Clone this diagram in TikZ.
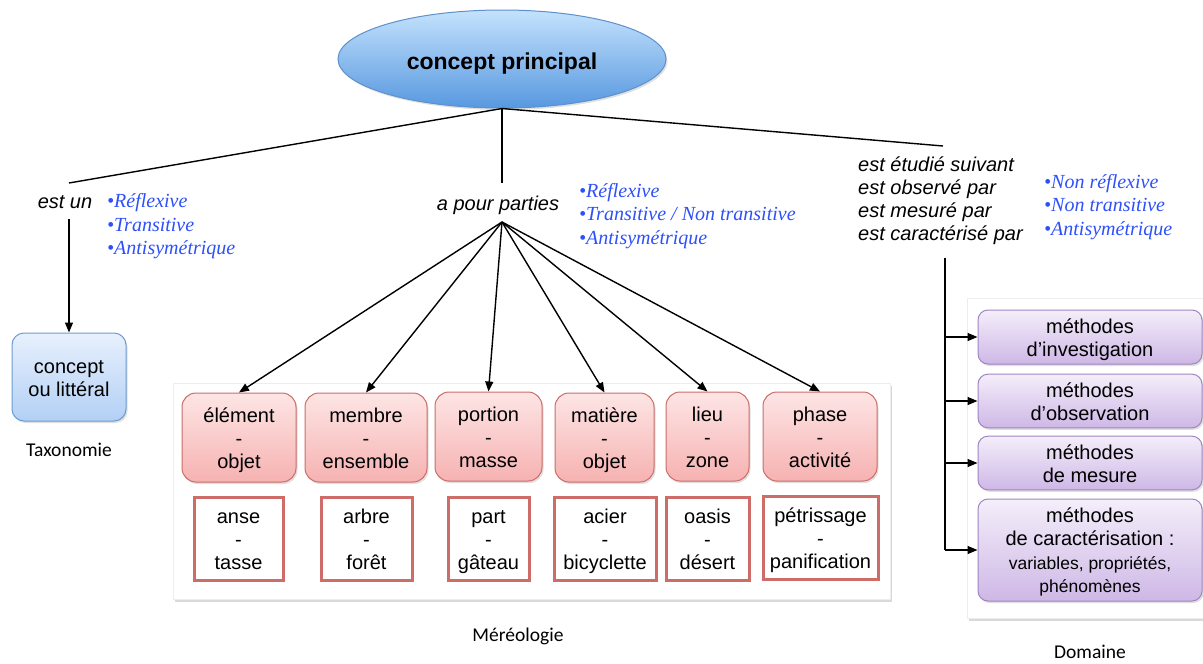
\documentclass[tikz,border=0pt]{standalone}
\usepackage{fontspec}
\setmainfont{Liberation Sans}
\newfontfamily\timesfont{Liberation Serif}
\newfontfamily\calfont{Carlito}
\usepackage{tikz}
\usetikzlibrary{shapes.geometric,shadows,arrows.meta}

\definecolor{relblue}{RGB}{45,80,250}
\definecolor{ovaltop}{RGB}{196,226,252}
\definecolor{ovalbot}{RGB}{88,152,224}
\definecolor{ovalline}{RGB}{92,145,205}
\definecolor{bluetop}{RGB}{232,240,253}
\definecolor{bluebot}{RGB}{178,208,245}
\definecolor{blueline}{RGB}{108,156,212}
\definecolor{redtop}{RGB}{253,229,229}
\definecolor{redbot}{RGB}{246,178,177}
\definecolor{redline}{RGB}{206,108,104}
\definecolor{purtop}{RGB}{244,238,250}
\definecolor{purbot}{RGB}{206,184,230}
\definecolor{purline}{RGB}{160,132,196}

% struts so that every box sets its lines at the same heights
\newcommand\topstrut{\rule{0pt}{19.5pt}}
\newcommand\botstrut{\rule[-4.5pt]{0pt}{4.5pt}}
\newcommand\pair[2]{\topstrut#1\\-\\#2\botstrut}

\begin{document}
\begin{tikzpicture}[x=1pt,y=-1pt,
  font=\fontsize{20}{23}\selectfont,
  >={Triangle[length=10pt,width=8pt]},
  link/.style={line width=1.4pt},
  relation/.style={font=\fontsize{20}{23}\selectfont\itshape},
  props/.style={font=\fontsize{20}{23.5}\selectfont\timesfont\itshape,text=relblue,
    align=left,anchor=west,inner sep=0pt},
  caption/.style={font=\fontsize{19.5}{23}\selectfont\calfont,inner sep=0pt},
  panel/.style={fill=white,draw=black!7,
    drop shadow={shadow xshift=2pt,shadow yshift=-3pt,opacity=0.3}},
  softshadow/.style={drop shadow={shadow xshift=1.5pt,shadow yshift=-2pt,opacity=0.25}},
  redbox/.style={rounded corners=14pt,top color=redtop,bottom color=redbot,
    draw=redline,line width=1pt,align=center,minimum height=89pt,softshadow},
  examplebox/.style={draw=redline,line width=3pt,fill=white,align=center,
    minimum height=83pt,inner sep=2pt},
  methodbox/.style={rounded corners=10pt,top color=purtop,bottom color=purbot,
    draw=purline,line width=1pt,align=center,minimum width=224pt,softshadow}]
  \useasboundingbox (0,0) rectangle (1203,664);

  % background panels
  \fill[panel] (173,383) rectangle (890,599);
  \fill[panel] (967,298) rectangle (1215,618);

  % main concept
  \node[ellipse,minimum width=328pt,minimum height=98pt,inner sep=0pt,
    text height=25pt,text depth=5pt,
    top color=ovaltop,bottom color=ovalbot,draw=ovalline,line width=1pt,softshadow,
    font=\fontsize{23}{26}\selectfont\bfseries] (main) at (502,59) {concept principal};

  % relation labels
  \node[relation] (isa) at (65,202) {est un};
  \node[relation] (parts) at (498,205) {a pour parties};
  \node[relation,align=left,anchor=west,inner sep=0pt] (studied) at (858,201)
    {est étudié suivant\\est observé par\\est mesuré par\\est caractérisé par};
  \node[props] (isaP) at (107,226.5)
    {\textbullet Réflexive\\\textbullet Transitive\\\textbullet Antisymétrique};
  \node[props] (partsP) at (579,216)
    {\textbullet Réflexive\\\textbullet Transitive / Non transitive\\\textbullet Antisymétrique};
  \node[props] (studiedP) at (1044,207)
    {\textbullet Non réflexive\\\textbullet Non transitive\\\textbullet Antisymétrique};

  % line ends
  \coordinate (isaTop) at (69,183);
  \coordinate (isaBot) at (69,219);
  \coordinate (partsTop) at (502,183);
  \coordinate (fan) at (502,222);
  \coordinate (studiedTop) at (943,146);
  \coordinate (spine) at (945,258);

  \draw[link] (main.south) -- (isaTop);
  \draw[link] (main.south) -- (partsTop);
  \draw[link] (main.south) -- (studiedTop);

  % taxonomie
  \node[rounded corners=12pt,top color=bluetop,bottom color=bluebot,draw=blueline,
    line width=1pt,align=center,minimum width=114pt,minimum height=88pt,softshadow]
    (cl) at (69,377) {\topstrut concept\\ou littéral\botstrut};
  \draw[link,->] (isaBot) -- (cl.north);
  \node[caption] (tax) at (69,450) {Taxonomie};

  % mereologie
  \node[redbox,minimum width=114pt] (elem) at (239,437.5) {\pair{élément}{objet}};
  \node[redbox,minimum width=122pt] (memb) at (366,437.5) {\pair{membre}{ensemble}};
  \node[redbox,minimum width=107pt] (port) at (488.5,436.5) {\pair{portion}{masse}};
  \node[redbox,minimum width=99pt] (mat) at (604.5,437.5) {\pair{matière}{objet}};
  \node[redbox,minimum width=83pt] (lieu) at (707.5,436.5) {\pair{lieu}{zone}};
  \node[redbox,minimum width=114pt] (phase) at (820,436.5) {\pair{phase}{activité}};

  \node[examplebox,minimum width=89pt] (anse) at (238.5,538.5) {\pair{anse}{tasse}};
  \node[examplebox,minimum width=91pt] (arbre) at (366.5,538.5) {\pair{arbre}{forêt}};
  \node[examplebox,minimum width=81pt] (part) at (488.5,538.5) {\pair{part}{gâteau}};
  \node[examplebox,minimum width=102pt] (acier) at (605,538.5) {\pair{acier}{bicyclette}};
  \node[examplebox,minimum width=83pt] (oasis) at (707.5,538.5) {\pair{oasis}{désert}};
  \node[examplebox,minimum width=115pt] (petr) at (820.5,538) {\pair{pétrissage}{panification}};

  \foreach \b in {elem,memb,port,mat,lieu,phase}
    \draw[link,->] (fan) -- (\b.north);
  \node[caption] (mero) at (518,636) {Méréologie};

  % domaine
  \node[methodbox,minimum height=54pt] (inv) at (1090,337)
    {\topstrut méthodes\\d’investigation\botstrut};
  \node[methodbox,minimum height=52pt] (obs) at (1090,401)
    {\topstrut méthodes\\d’observation\botstrut};
  \node[methodbox,minimum height=52pt] (mes) at (1090,463)
    {\topstrut méthodes\\de mesure\botstrut};
  \node[methodbox,minimum height=102pt] (car) at (1090,550)
    {\topstrut méthodes\\de caractérisation :\\[1pt]{\fontsize{17.5}{23}\selectfont variables, propriétés,}\\
     {\fontsize{17.5}{23}\selectfont phénomènes}\botstrut};

  \draw[link] (spine) -- (car.west -| spine);
  \foreach \b in {inv,obs,mes,car}
    \draw[link,->] (\b.west -| spine) -- (\b.west);
  \node[caption] (dom) at (1090,652) {Domaine};
\end{tikzpicture}
\end{document}
